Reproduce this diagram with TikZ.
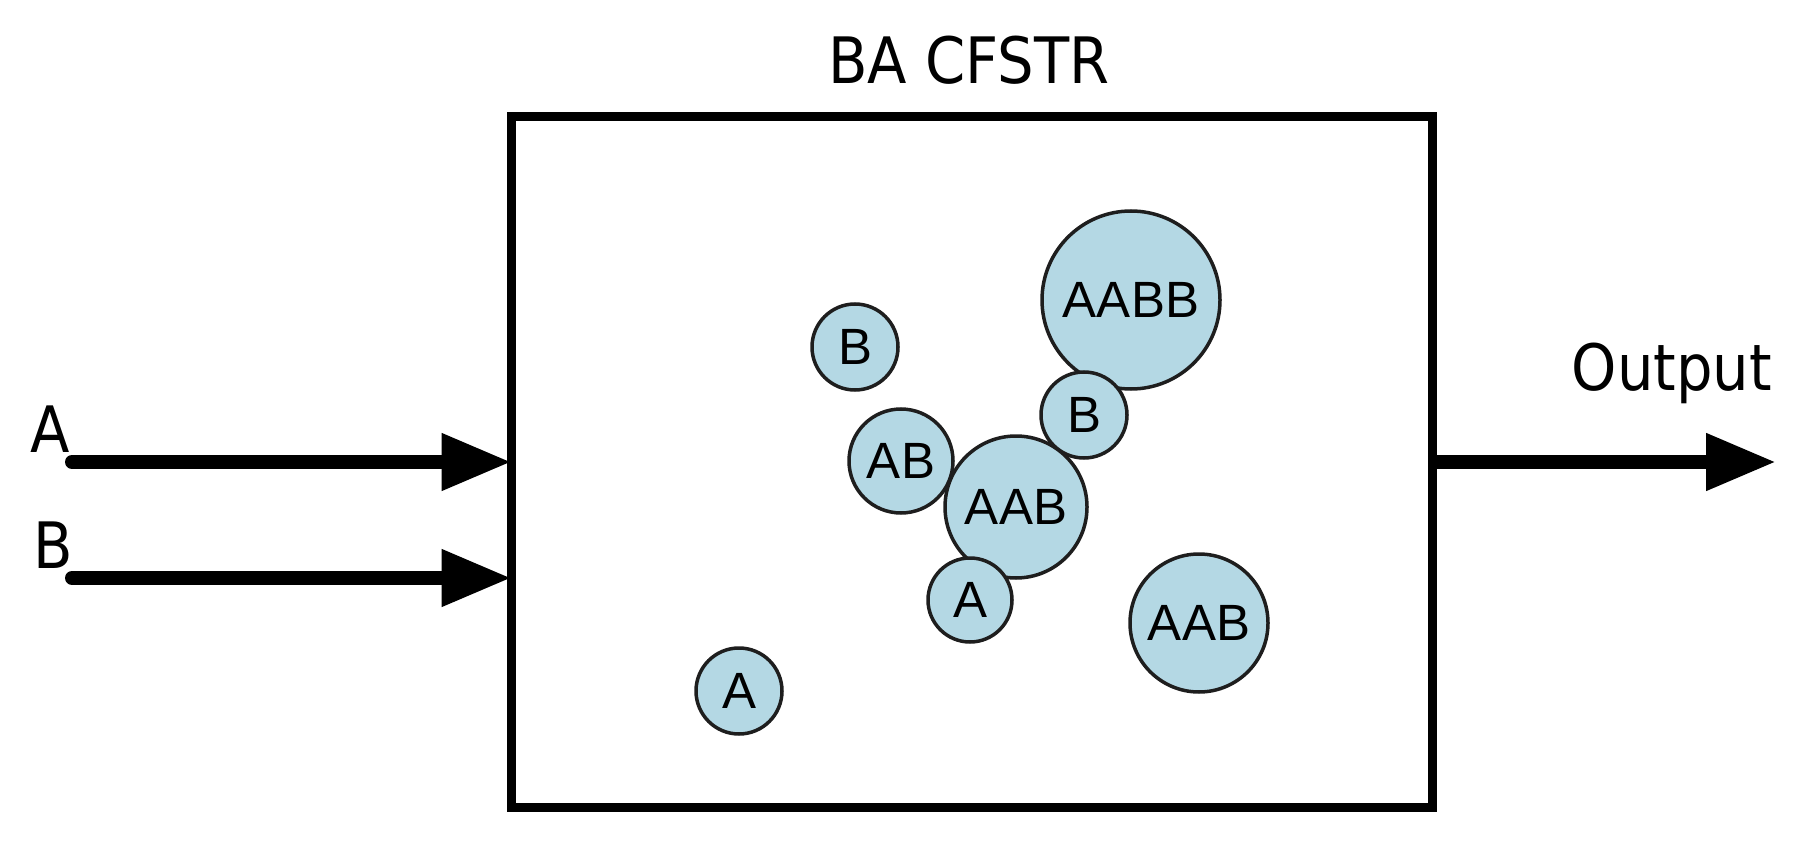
\documentclass[tikz,border=0pt]{standalone}
\usepackage{fontspec}
\usetikzlibrary{arrows.meta}
\newfontfamily\labfont[FakeStretch=0.9]{DejaVu Sans}
\newfontfamily\cirfont{Liberation Sans}
\definecolor{cfill}{RGB}{180,216,228}
\definecolor{cline}{RGB}{30,30,30}
\tikzset{
  outerlab/.style={font=\labfont\fontsize{64}{70}\selectfont, inner sep=0, anchor=base},
  molecule/.style={circle, draw=cline, fill=cfill, line width=3.5, inner sep=0,
    font=\cirfont\fontsize{51}{54}\selectfont},
  reactor/.style={draw=black, line width=9, inner sep=0, minimum width=921, minimum height=690},
  flow/.style={line width=14, line cap=round, -{Triangle[length=70pt,width=54pt]}}
}
\begin{document}
\begin{tikzpicture}[x=1pt,y=-1pt]
\useasboundingbox (0,0) rectangle (1820,850);
\node[reactor] (box) at (971.5,462) {};
\node[outerlab] (title) at (969,84) {BA CFSTR};
\node[outerlab] (out) at (1672,390) {Output};
\node[outerlab] (la) at (50,452) {A};
\node[outerlab] (lb) at (53,568) {B};
\coordinate (ina) at (72,462);
\coordinate (inb) at (72,578);
\coordinate (outend) at (1776,462);
\draw[flow, shorten >=-5pt] (ina) -- (ina -| box.west);
\draw[flow, shorten >=-5pt] (inb) -- (inb -| box.west);
\draw[flow, line cap=butt] (outend -| box.east) -- (outend);
% molecules
\node[molecule, minimum size=86] (m1) at (855,347) {B};
\node[molecule, minimum size=178] (m2) at (1131,300) {AABB};
\node[molecule, minimum size=86] (m3) at (1084,415) {B};
\node[molecule, minimum size=104] (m4) at (901,461) {AB};
\node[molecule, minimum size=142] (m5) at (1016,507) {AAB};
\node[molecule, minimum size=84] (m6) at (970,600) {A};
\node[molecule, minimum size=138] (m7) at (1199,623) {AAB};
\node[molecule, minimum size=86] (m8) at (739,691) {A};
\end{tikzpicture}
\end{document}
